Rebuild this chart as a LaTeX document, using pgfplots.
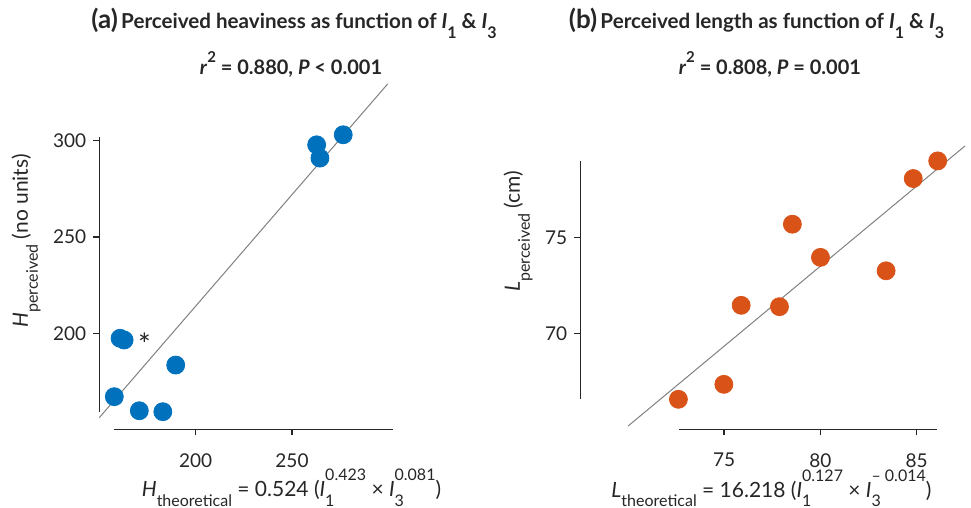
\documentclass[border=0pt]{standalone}
\usepackage{fontspec}
\setmainfont{Lato}
\usepackage{pgfplots}
\pgfplotsset{compat=1.18}

\definecolor{ptblue}{RGB}{0,114,189}
\definecolor{ptorange}{RGB}{217,83,25}
\definecolor{axcol}{RGB}{38,38,38}
\definecolor{fitcol}{RGB}{128,128,128}

% MATLAB-like sub/superscripts: hang fully below / sit fully above
\newcommand{\sub}[1]{\raisebox{-4.6pt}{\fontsize{8}{9}\selectfont #1}}
\newcommand{\tsub}[1]{\raisebox{-5pt}{\fontsize{8}{9}\selectfont #1}}
\newcommand{\sups}[1]{\raisebox{8pt}{\fontsize{8}{9}\selectfont #1}}
\newcommand{\subsup}[2]{\rlap{\sub{#1}}\sups{#2}}
\newcommand{\tsup}[1]{\raisebox{6.3pt}{\fontsize{7.5}{9}\selectfont #1}}
\newcommand{\lbl}{\fontsize{10.5}{12}\selectfont}

\pgfplotsset{
  panel/.style={
    scale only axis, clip=false,
    axis x line=bottom, axis y line=left,
    axis line style={-, draw=axcol, line width=0.75pt},
    tick align=outside, major tick length=3pt,
    tick style={draw=axcol, line width=0.75pt},
    tick label style={font=\fontsize{9.5}{11}\selectfont, text=axcol},
    xticklabel style={yshift=-5.5pt},
    /pgf/number format/assume math mode=true,
    label style={font=\lbl, text=axcol},
  },
}

\begin{document}
\begin{tikzpicture}
\useasboundingbox (0,0) rectangle (485.5pt,-254pt);

% (a) heaviness
\begin{axis}[panel,
  at={(57.15pt,-205.85pt)}, anchor=south west,
  width=139.2pt, height=137.5pt,
  xmin=157.7, xmax=302.3, ymin=159.3, ymax=302,
  axis x line shift=8.8pt, axis y line shift=7.5pt,
  xtick={200,250}, ytick={200,250,300},
  xlabel={\textit{H}\sub{theoretical} = 0.524 (\textit{I}\subsup{1}{0.423} × \textit{I}\subsup{3}{0.081})},
  xlabel style={at={(axis description cs:0.6365,-0.310)}, anchor=base},
  ylabel={\textit{H}\tsub{perceived} (no units)},
  ylabel style={at={(axis description cs:-0.31,0.621)}, anchor=base, rotate=0},
]
\addplot[only marks, mark=*, mark size=4.5pt, color=ptblue] coordinates {
  (157.7,167.1) (170.7,159.8) (182.9,159.3) (189.6,183.5)
  (160.7,197.4) (162.8,196.5) (262.8,297.8) (264.5,290.9) (276.6,303.0)};
\addplot[fitcol, line width=0.5pt] coordinates {(149.9,156.2) (299.7,329.4)};
\node[font=\fontsize{15}{16}\selectfont, text=axcol] at (axis cs:173.4,194.2) {*};
\node[anchor=base, text=axcol] at (axis description cs:0.6455,1.394)
  {{\fontsize{13}{15}\selectfont\bfseries (a)}\,{\fontsize{10.3}{12}\selectfont\bfseries Perceived heaviness as function of \textit{I}\tsub{1} \& \textit{I}\tsub{3}}};
\node[anchor=base, text=axcol, font=\fontsize{10}{12}\selectfont\bfseries] at (axis description cs:0.6347,1.2244)
  {\textit{r}\tsup{2} = 0.880, \textit{P} < 0.001};
\end{axis}

% (b) length
\begin{axis}[panel,
  at={(339.5pt,-199.65pt)}, anchor=south west,
  width=129.15pt, height=119.3pt,
  xmin=72.65, xmax=86.07, ymin=66.56, ymax=79.0,
  axis x line shift=15pt, axis y line shift=49.35pt,
  xtick={75,80,85}, ytick={70,75},
  xlabel={\textit{L}\sub{theoretical} = 16.218 (\textit{I}\subsup{1}{0.127} × \textit{I}\subsup{3}{\textendash\ 0.014})},
  xlabel style={at={(axis description cs:0.358,-0.4095)}, anchor=base},
  ylabel={\textit{L}\tsub{perceived} (cm)},
  ylabel style={at={(axis description cs:-0.6156,0.705)}, anchor=base, rotate=0},
]
\addplot[only marks, mark=*, mark size=4.5pt, color=ptorange] coordinates {
  (72.62,66.56) (74.98,67.34) (75.88,71.46) (77.87,71.39) (78.54,75.69)
  (80.0,73.96) (83.41,73.26) (84.82,78.07) (86.09,78.99)};
\addplot[fitcol, line width=0.5pt] coordinates {(70.01,65.17) (87.51,79.77)};
\node[anchor=base, text=axcol] at (axis description cs:0.300,1.553)
  {{\fontsize{13}{15}\selectfont\bfseries (b)}\,{\fontsize{10.3}{12}\selectfont\bfseries Perceived length as function of \textit{I}\tsub{1} \& \textit{I}\tsub{3}}};
\node[anchor=base, text=axcol, font=\fontsize{10}{12}\selectfont\bfseries] at (axis description cs:0.352,1.3592)
  {\textit{r}\tsup{2} = 0.808, \textit{P} = 0.001};
\end{axis}
\end{tikzpicture}
\end{document}
